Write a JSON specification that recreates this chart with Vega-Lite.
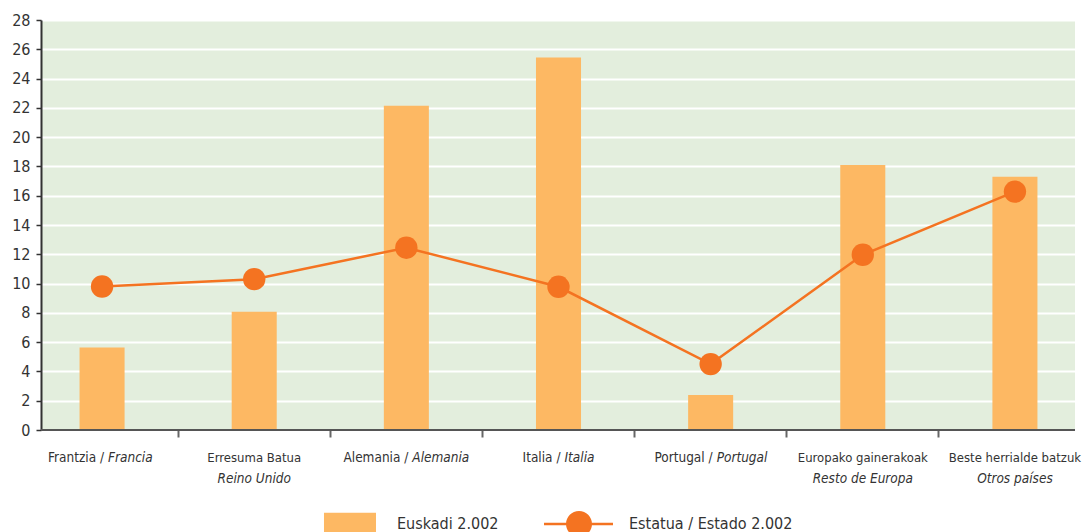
{
  "$schema": "https://vega.github.io/schema/vega-lite/v6.json",
  "width": 1034,
  "height": 410,
  "autosize": {"type": "none"},
  "padding": {"left": 41, "top": 20, "right": 7, "bottom": 102},
  "background": "white",
  "config": {
    "view": {"stroke": null, "fill": "#e3eedd"},
    "font": "DejaVu Sans Condensed",
    "text": {"font": "DejaVu Sans Condensed"},
    "axisY": {
      "title": null,
      "tickCount": 15,
      "grid": true,
      "gridColor": "white",
      "gridWidth": 2,
      "domainColor": "#333333",
      "domainWidth": 2,
      "tickColor": "#333333",
      "tickSize": 5,
      "tickWidth": 1.5,
      "labelPadding": 6,
      "labelFontSize": 16,
      "labelColor": "#333333",
      "labelFont": "DejaVu Sans Condensed",
      "labelOverlap": false
    },
    "legend": {
      "title": null,
      "orient": "none",
      "padding": 0,
      "direction": "horizontal",
      "symbolSize": 4900,
      "symbolStrokeWidth": 0,
      "labelOffset": 16,
      "labelFontSize": 16,
      "labelColor": "#333333",
      "labelLimit": 400,
      "labelFont": "DejaVu Sans Condensed"
    }
  },
  "data": {
    "values": [
      {"cat": "Frantzia", "r1": "Frantzia /", "i1": "Francia", "i2": null, "euskadi": 5.63, "estado": 9.8},
      {"cat": "Erresuma Batua", "r1": "Erresuma Batua", "i1": null, "i2": "Reino Unido", "euskadi": 8.08, "estado": 10.3},
      {"cat": "Alemania", "r1": "Alemania /", "i1": "Alemania", "i2": null, "euskadi": 22.15, "estado": 12.45},
      {"cat": "Italia", "r1": "Italia /", "i1": "Italia", "i2": null, "euskadi": 25.44, "estado": 9.78},
      {"cat": "Portugal", "r1": "Portugal /", "i1": "Portugal", "i2": null, "euskadi": 2.39, "estado": 4.5},
      {"cat": "Europako gainerakoak", "r1": "Europako gainerakoak", "i1": null, "i2": "Resto de Europa", "euskadi": 18.1, "estado": 11.97},
      {"cat": "Beste herrialde batzuk", "r1": "Beste herrialde batzuk", "i1": null, "i2": "Otros países", "euskadi": 17.3, "estado": 16.28}
    ]
  },
  "encoding": {
    "x": {
      "field": "cat",
      "type": "nominal",
      "sort": null,
      "scale": {"range": [-15, 1050], "paddingInner": 0, "paddingOuter": 0},
      "axis": {
        "title": null,
        "labels": false,
        "domain": false,
        "grid": false,
        "bandPosition": 0,
        "values": ["Erresuma Batua", "Alemania", "Italia", "Portugal", "Europako gainerakoak", "Beste herrialde batzuk"],
        "tickSize": 7,
        "tickWidth": 2,
        "tickColor": "#666666"
      }
    }
  },
  "layer": [
    {
      "mark": {"type": "bar", "width": {"band": 0.296}},
      "encoding": {
        "y": {
          "field": "euskadi",
          "type": "quantitative",
          "scale": {"domain": [0, 28], "nice": false, "zero": true},
          "axis": {"title": null, "tickCount": 15, "values": [0, 2, 4, 6, 8, 10, 12, 14, 16, 18, 20, 22, 24, 26, 28]}
        },
        "fill": {
          "datum": "Euskadi 2.002",
          "type": "nominal",
          "scale": {"domain": ["Euskadi 2.002"], "range": ["#fdb863"]},
          "legend": {
            "legendX": 270,
            "legendY": 469,
            "symbolType": "M-0.629,-0.323H0.857V0.323H-0.629Z"
          }
        }
      }
    },
    {
      "mark": {"type": "rule", "color": "#555555", "strokeWidth": 2},
      "encoding": {"y": {"datum": 0, "type": "quantitative", "axis": {"title": null, "tickCount": 15, "values": [0, 2, 4, 6, 8, 10, 12, 14, 16, 18, 20, 22, 24, 26, 28]}}, "x": null}
    },
    {
      "mark": {"type": "line", "strokeWidth": 2.5},
      "encoding": {
        "y": {"field": "estado", "type": "quantitative", "axis": {"title": null, "tickCount": 15, "values": [0, 2, 4, 6, 8, 10, 12, 14, 16, 18, 20, 22, 24, 26, 28]}},
        "stroke": {
          "datum": "Estatua / Estado 2.002",
          "type": "nominal",
          "scale": {"domain": ["Estatua / Estado 2.002"], "range": ["#f47321"]},
          "legend": {
            "legendX": 502,
            "legendY": 469,
            "symbolType": "M-0.971,-0.036H-0.33V0.036H-0.971Z M0.39,-0.036H1V0.036H0.39Z M-0.342,0A0.371,0.371 0 1 1 0.4,0A0.371,0.371 0 1 1 -0.342,0Z",
            "symbolFillColor": "#f47321",
            "encode": {"symbols": {"update": {"fill": {"value": "#f47321"}, "fillOpacity": {"value": 1}, "opacity": {"value": 1}}}}
          }
        }
      }
    },
    {
      "mark": {"type": "point", "filled": true, "size": 500, "opacity": 1, "shape": "circle", "color": "#f47321"},
      "encoding": {
        "y": {"field": "estado", "type": "quantitative", "axis": {"title": null, "tickCount": 15, "values": [0, 2, 4, 6, 8, 10, 12, 14, 16, 18, 20, 22, 24, 26, 28]}}
      }
    },
    {
      "transform": [{"filter": "datum.i1 != null"}],
      "mark": {"type": "text", "align": "right", "baseline": "alphabetic", "dx": 2, "fontSize": 13.5, "color": "#333333"},
      "encoding": {"y": {"datum": -2.19, "type": "quantitative", "axis": {"title": null, "tickCount": 15, "values": [0, 2, 4, 6, 8, 10, 12, 14, 16, 18, 20, 22, 24, 26, 28]}}, "text": {"field": "r1"}}
    },
    {
      "transform": [{"filter": "datum.i1 != null"}],
      "mark": {"type": "text", "align": "left", "baseline": "alphabetic", "dx": 6, "fontSize": 13.5, "fontStyle": "italic", "color": "#333333"},
      "encoding": {"y": {"datum": -2.19, "type": "quantitative", "axis": {"title": null, "tickCount": 15, "values": [0, 2, 4, 6, 8, 10, 12, 14, 16, 18, 20, 22, 24, 26, 28]}}, "text": {"field": "i1"}}
    },
    {
      "transform": [{"filter": "datum.i2 != null"}],
      "mark": {"type": "text", "align": "center", "baseline": "alphabetic", "fontSize": 13, "color": "#333333"},
      "encoding": {"y": {"datum": -2.19, "type": "quantitative", "axis": {"title": null, "tickCount": 15, "values": [0, 2, 4, 6, 8, 10, 12, 14, 16, 18, 20, 22, 24, 26, 28]}}, "text": {"field": "r1"}}
    },
    {
      "transform": [{"filter": "datum.i2 != null"}],
      "mark": {"type": "text", "align": "center", "baseline": "alphabetic", "fontSize": 13.5, "fontStyle": "italic", "color": "#333333"},
      "encoding": {"y": {"datum": -3.62, "type": "quantitative", "axis": {"title": null, "tickCount": 15, "values": [0, 2, 4, 6, 8, 10, 12, 14, 16, 18, 20, 22, 24, 26, 28]}}, "text": {"field": "i2"}}
    }
  ]
}
